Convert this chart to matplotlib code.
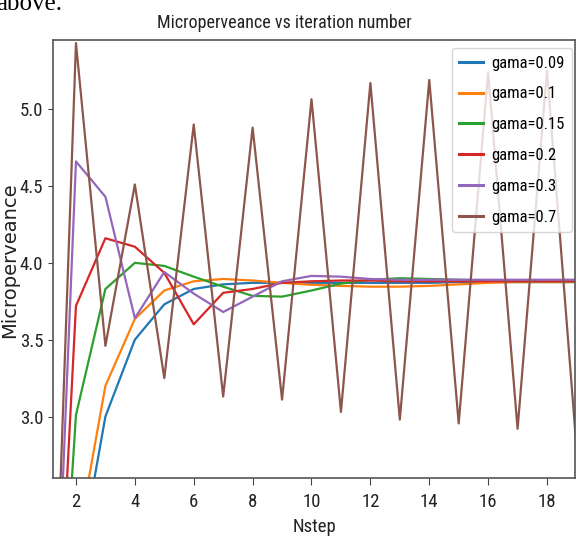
import matplotlib
matplotlib.use("Agg")
import matplotlib.pyplot as plt

nstep = list(range(1, 20))
labels = ["gama=0.09", "gama=0.1", "gama=0.15", "gama=0.2", "gama=0.3", "gama=0.7"]
g009 = [0, 1.92, 3.00, 3.50, 3.73, 3.83, 3.86, 3.87, 3.87, 3.87, 3.87, 3.87, 3.87, 3.87, 3.875, 3.875, 3.875, 3.875, 3.875]
g01 = [0, 2.13, 3.20, 3.635, 3.82, 3.88, 3.895, 3.885, 3.87, 3.857, 3.85, 3.845, 3.845, 3.85, 3.86, 3.87, 3.875, 3.875, 3.875]
g015 = [0, 3.01, 3.83, 4.00, 3.98, 3.91, 3.845, 3.785, 3.78, 3.82, 3.865, 3.89, 3.90, 3.895, 3.89, 3.885, 3.88, 3.88, 3.88]
g02 = [0, 3.72, 4.16, 4.105, 3.935, 3.60, 3.805, 3.83, 3.87, 3.88, 3.885, 3.885, 3.88, 3.88, 3.88, 3.88, 3.88, 3.88, 3.88]
g03 = [0, 4.66, 4.43, 3.64, 3.94, 3.80, 3.68, 3.78, 3.88, 3.915, 3.91, 3.895, 3.89, 3.89, 3.89, 3.89, 3.89, 3.89, 3.89]
g07 = [0, 5.43, 3.46, 4.51, 3.25, 4.90, 3.13, 4.88, 3.11, 5.065, 3.03, 5.17, 2.98, 5.19, 2.955, 5.24, 2.92, 5.25, 2.80]
series = [g009, g01, g015, g02, g03, g07]
xticks = [2, 4, 6, 8, 10, 12, 14, 16, 18]
yticks = [3.0, 3.5, 4.0, 4.5, 5.0]

NARROW = ["Roboto Condensed", "IBM Plex Sans Condensed", "DejaVu Sans"]

fig = plt.figure(figsize=(5.76, 5.38), dpi=100)
ax = fig.add_axes([53/576, 1 - 478/538, (575-53)/576, (478-40)/538])

for vals, lab in zip(series, labels):
    ax.plot(nstep, vals, lw=1.6, label=lab)

ax.set_xlim(1.22, 18.95)
ax.set_ylim(2.60, 5.45)
ax.set_xticks(xticks)
ax.set_yticks(yticks)
ax.set_xticklabels([str(t) for t in xticks], family=NARROW, fontsize=13.5, color="#222222")
ax.set_yticklabels([f"{t:.1f}" for t in yticks], family=NARROW, fontsize=13.5, color="#222222")
ax.tick_params(axis="x", length=5, pad=6, color="#444444")
ax.tick_params(axis="y", length=3.5, pad=3.5, color="#444444")
for s in ax.spines.values():
    s.set_color("#555555")
    s.set_linewidth(1.2)

ax.set_xlabel("Nstep", family=NARROW, fontsize=13.5, color="#222222", labelpad=5)
ax.set_ylabel("Microperveance", family="DejaVu Sans", fontsize=14, color="#222222")
ax.yaxis.set_label_coords(-0.065, 0.497)

leg = ax.legend(loc="upper right", bbox_to_anchor=(0.9943, 0.9817), borderaxespad=0,
                prop={"family": NARROW, "size": 12}, labelspacing=0.95, borderpad=0.45,
                handlelength=1.4, handletextpad=0.5, framealpha=0.8)
for h in leg.get_lines():
    h.set_linewidth(2.2)

fig.text(284/576, 1 - 28.3/538, "Microperveance vs iteration number", ha="center", va="baseline",
         family=NARROW, fontsize=13, color="#222222")
fig.text(-0.006, 1 - 10/538, "above.", ha="left", va="baseline", family="Liberation Serif",
         fontsize=18, color="black")

fig.savefig("out.png", dpi=100)
